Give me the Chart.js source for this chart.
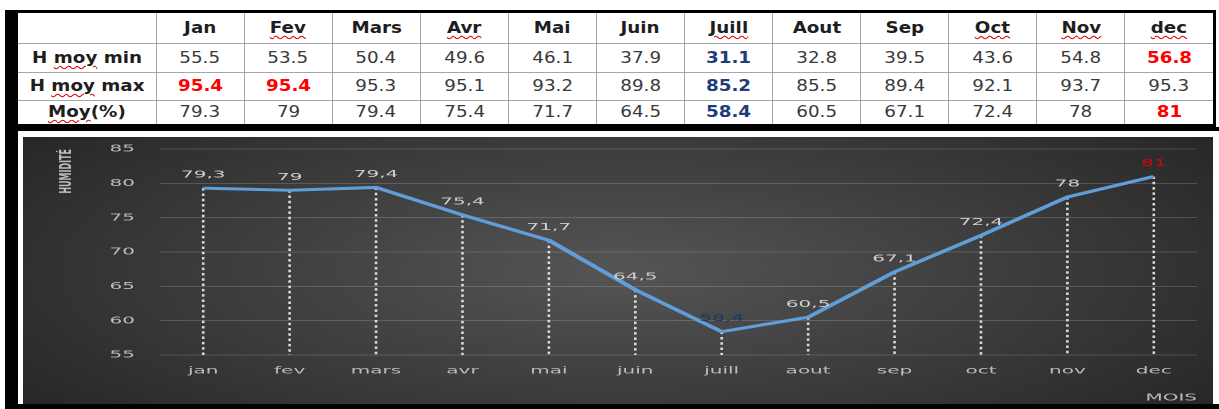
<!DOCTYPE html>
<html>
<head>
<meta charset="utf-8">
<script src="https://cdn.jsdelivr.net/npm/chart.js@4.4.1/dist/chart.umd.min.js"></script>
<style>
  body { margin: 0; width: 1219px; height: 409px; overflow: hidden; background: #fff; font-family: "DejaVu Sans", sans-serif; }
  #lbar { position: absolute; left: 5px; top: 10px; width: 8px; height: 399px; background: #000; }
  #tbox { position: absolute; left: 13px; top: 10px; width: 1195px; height: 111px; border: 3px solid #000; border-left-width: 5px; background: #fff; }
  #tab { border-collapse: collapse; border-style: hidden; table-layout: fixed; width: 1195px; height: 111px; }
  #tab td { border: 1px solid #a6a6a6; text-align: center; font-size: 15px; color: #3a3a3a; padding: 0; overflow: hidden; white-space: nowrap; }
  #tab td > span { display: inline-block; transform: scaleX(1.22); }
  #tab tr.head td, #tab td.rowname { font-weight: bold; color: #1e1e1e; }
  #tab td.hi { color: #ff0000; font-weight: bold; }
  #tab td.lo { color: #1f3d7a; font-weight: bold; }
  .spell { text-decoration: underline wavy #e00000; text-decoration-thickness: 1px; text-underline-offset: 2px; }
  #frame { position: absolute; left: 13px; top: 127px; width: 1206px; height: 282px; background: #000; }
  #white { position: absolute; left: 18px; top: 131px; width: 1201px; height: 273px; background: #fff; }
  #plot { position: absolute; left: 23px; top: 137px; width: 1190px; height: 267px;
          background: radial-gradient(ellipse 62% 85% at 50% 50%, #555 0%, #3c3c3c 55%, #272727 100%); }
  #cwrap { position: absolute; left: 0; top: 0; width: 595px; height: 267px; transform-origin: 0 0; transform: scaleX(2); }
</style>
</head>
<body>
<div id="lbar"></div>
<div id="tbox"><table id="tab"></table></div>
<div id="frame"></div>
<div id="white"></div>
<div id="plot"><div id="cwrap"><canvas id="myChart"></canvas></div></div>
<script>
// humidity per month (table on top, chart draws Moy(%))
const tableMonths = ["Jan", "Fev", "Mars", "Avr", "Mai", "Juin", "Juill", "Aout", "Sep", "Oct", "Nov", "dec"];
const chartMonths = ["jan", "fev", "mars", "avr", "mai", "juin", "juill", "aout", "sep", "oct", "nov", "dec"];
const hMoyMin = [55.5, 53.5, 50.4, 49.6, 46.1, 37.9, 31.1, 32.8, 39.5, 43.6, 54.8, 56.8];
const hMoyMax = [95.4, 95.4, 95.3, 95.1, 93.2, 89.8, 85.2, 85.5, 89.4, 92.1, 93.7, 95.3];
const moy = [79.3, 79, 79.4, 75.4, 71.7, 64.5, 58.4, 60.5, 67.1, 72.4, 78, 81];
const yMin = 55;
const yMax = 85;
const yStep = 5;

// words that word flags with the red squiggle
const spellWords = ["moy", "Moy", "Fev", "Avr", "Juill", "Oct", "Nov", "dec"];

function spellText(txt) {
    return txt.replace(/[A-Za-z]+/g, w => spellWords.includes(w) ? `<span class="spell">${w}</span>` : w);
}

function buildTable() {
    const tab = document.getElementById('tab');
    const heights = [30, 29, 28, 24];
    let html = `<colgroup><col style="width:138px">` + tableMonths.map(() => '<col>').join('') + `</colgroup>`;
    html += `<tr class="head" style="height:${heights[0]}px"><td></td>` +
        tableMonths.map(m => `<td><span>${spellText(m)}</span></td>`).join('') + `</tr>`;

    const rows = [["H moy min", hMoyMin], ["H moy max", hMoyMax], ["Moy(%)", moy]];
    rows.forEach(([name, vals], r) => {
        const hi = Math.max(...vals);
        const lo = Math.min(...vals);
        html += `<tr style="height:${heights[r + 1]}px"><td class="rowname"><span>${spellText(name)}</span></td>`;
        vals.forEach(v => {
            const cls = v === hi ? 'hi' : (v === lo ? 'lo' : '');
            html += `<td class="${cls}"><span>${v}</span></td>`;
        });
        html += `</tr>`;
    });
    tab.innerHTML = html;
}
buildTable();

// dotted drop lines + value labels
const dropLines = {
    id: 'dropLines',
    beforeDatasetsDraw(chart) {
        const ctx = chart.ctx;
        const meta = chart.getDatasetMeta(0);
        const bottom = chart.scales.y.getPixelForValue(yMin);
        ctx.save();
        ctx.strokeStyle = 'rgba(235,235,235,0.9)';
        ctx.lineWidth = 1.3;
        ctx.setLineDash([2.5, 2.8]);
        meta.data.forEach(pt => {
            ctx.beginPath();
            ctx.moveTo(pt.x, pt.y);
            ctx.lineTo(pt.x, bottom);
            ctx.stroke();
        });
        ctx.restore();
    },
    afterDatasetsDraw(chart) {
        const ctx = chart.ctx;
        const data = chart.data.datasets[0].data;
        const meta = chart.getDatasetMeta(0);
        const hi = Math.max(...data);
        const lo = Math.min(...data);
        ctx.save();
        ctx.font = '10px "DejaVu Sans"';
        ctx.textAlign = 'center';
        ctx.textBaseline = 'middle';
        meta.data.forEach((pt, i) => {
            const v = data[i];
            ctx.fillStyle = v === hi ? '#e00000' : (v === lo ? '#1f3864' : '#d0d0d0');
            ctx.fillText(String(v).replace('.', ','), pt.x, pt.y - 13);
        });
        ctx.restore();
    }
};

const tickColor = '#bdbdbd';

new Chart(document.getElementById('myChart'), {
    type: 'line',
    data: {
        labels: chartMonths,
        datasets: [{
            data: moy,
            borderColor: '#5f9ed8',
            borderWidth: 3,
            pointRadius: 0,
            tension: 0,
            fill: false
        }]
    },
    options: {
        responsive: true,
        maintainAspectRatio: false,
        devicePixelRatio: 2,
        animation: false,
        layout: { padding: { left: 17, right: 8, top: 12, bottom: 0 } },
        plugins: {
            legend: { display: false },
            tooltip: { enabled: false }
        },
        scales: {
            x: {
                offset: true,
                grid: { display: false, drawTicks: false },
                border: { display: false },
                ticks: { color: tickColor, font: { family: 'DejaVu Sans', size: 10 }, padding: 10, maxRotation: 0 },
                title: { display: true, text: 'MOIS', align: 'end', color: tickColor, font: { family: 'DejaVu Sans', size: 10 }, padding: 0 },
                afterFit: s => { s.height = 49; s.paddingLeft = 0; s.paddingRight = 0; }
            },
            y: {
                min: yMin,
                max: yMax,
                grid: { color: 'rgba(255,255,255,0.16)', lineWidth: 1, drawTicks: false },
                border: { display: false },
                ticks: { stepSize: yStep, color: tickColor, font: { family: 'DejaVu Sans', size: 10 }, padding: 12.5 },
                title: { display: true, text: 'HUMIDITÉ', align: 'end', color: tickColor, font: { family: 'DejaVu Sans', size: 8, weight: 'bold' }, padding: 0 },
                afterFit: s => { s.width = 51.5; s.paddingTop = 0; s.paddingBottom = 0; }
            }
        }
    },
    plugins: [dropLines]
});
</script>
</body>
</html>
